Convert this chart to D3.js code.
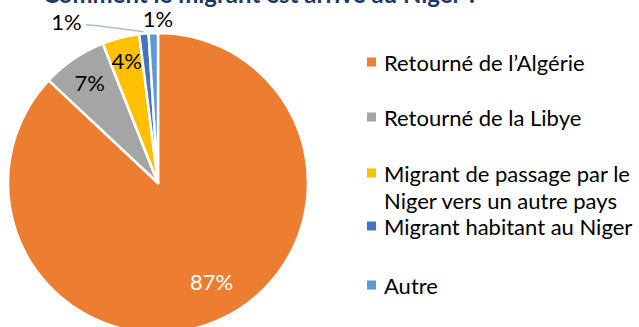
<!DOCTYPE html>
<html>
<head>
<meta charset="utf-8">
<script src="https://cdn.jsdelivr.net/npm/d3@7/dist/d3.min.js"></script>
<style>
  html, body { margin: 0; padding: 0; background: #fff; }
  svg { display: block; font-family: Lato, "Open Sans", sans-serif; }
</style>
</head>
<body>
<svg id="chart" width="639" height="327"></svg>
<script>
// How migrants arrived in Niger (share of respondents, %)
const title = "Comment le migrant est arrivé au Niger ?";
const categories = [
  "Retourné de l’Algérie",
  "Retourné de la Libye",
  "Migrant de passage par le Niger vers un autre pays",
  "Migrant habitant au Niger",
  "Autre"
];
const legendLines = [
  ["Retourné de l’Algérie"],
  ["Retourné de la Libye"],
  ["Migrant de passage par le", "Niger vers un autre pays"],
  ["Migrant habitant au Niger"],
  ["Autre"]
];
const values = [87, 7, 4, 1, 1];
const colors = ["#ED7D31", "#A5A5A5", "#FFC000", "#4472C4", "#5B9BD5"];

const data = categories.map((c, i) => ({ name: c, value: values[i], color: colors[i], lines: legendLines[i] }));

const svg = d3.select("#chart");
const cx = 158, cy = 183, R = 150;

// Title (sits partly above the top edge)
svg.append("text")
  .attr("x", 43).attr("y", 3)
  .attr("font-size", 24).attr("font-weight", 700)
  .attr("fill", "#1F3864")
  .text(title);

const pie = d3.pie().sort(null).value(d => d.value);
const arcs = pie(data);
const arc = d3.arc().innerRadius(0).outerRadius(R);

const g = svg.append("g").attr("transform", `translate(${cx},${cy})`);

g.selectAll("path.slice")
  .data(arcs)
  .join("path")
  .attr("class", "slice")
  .attr("d", arc)
  .attr("fill", d => d.data.color)
  .attr("stroke", "#fff")
  .attr("stroke-width", 2.5)
  .attr("stroke-linejoin", "round");

// Label placement: radius factor for inside labels, outside for the small ones
const labelFont = 22;
const pos = (a, r) => {
  const m = (a.startAngle + a.endAngle) / 2;
  return [Math.sin(m) * r, -Math.cos(m) * r];
};

const inside = [
  { i: 0, r: 0.75 * R, dx: 9, dy: -5, fill: "#fff" },
  { i: 1, r: 0.81 * R, dx: 0, dy: 0, fill: "#000" },
  { i: 2, r: 0.84 * R, dx: 0, dy: 0, fill: "#000" }
];
inside.forEach(o => {
  const [x, y] = pos(arcs[o.i], o.r);
  g.append("text")
    .attr("x", x + o.dx).attr("y", y + o.dy)
    .attr("text-anchor", "middle")
    .attr("dominant-baseline", "central")
    .attr("font-size", labelFont)
    .attr("fill", o.fill)
    .text(values[o.i] + "%");
});

// "Autre" label straight above its slice
{
  const [x, y] = pos(arcs[4], R + 14);
  g.append("text")
    .attr("x", x + 5).attr("y", y - 1)
    .attr("text-anchor", "middle")
    .attr("dominant-baseline", "central")
    .attr("font-size", labelFont)
    .attr("fill", "#000")
    .text(values[4] + "%");
}

// "Migrant habitant" label pulled to the left with a leader line
{
  const [ex, ey] = pos(arcs[3], R + 2);
  const kx = ex - 46, ky = ey - 6;
  const lx = kx - 12, ly = ky - 1;
  g.append("polyline")
    .attr("points", [[ex, ey], [kx, ky], [lx, ly]].map(p => p.join(",")).join(" "))
    .attr("fill", "none")
    .attr("stroke", "#A9BCD6")
    .attr("stroke-width", 1.5);
  g.append("text")
    .attr("x", lx - 4).attr("y", ly - 3)
    .attr("text-anchor", "end")
    .attr("dominant-baseline", "central")
    .attr("font-size", labelFont)
    .attr("fill", "#000")
    .text(values[3] + "%");
}

// Legend
const legendY = [62, 117, 173, 226, 285];
const lg = svg.append("g");
data.forEach((d, i) => {
  const row = lg.append("g").attr("transform", `translate(367,${legendY[i]})`);
  row.append("rect")
    .attr("x", 0).attr("y", -4.5)
    .attr("width", 9).attr("height", 9)
    .attr("fill", d.color);
  d.lines.forEach((t, j) => {
    row.append("text")
      .attr("x", 17).attr("y", j * 27)
      .attr("dominant-baseline", "central")
      .attr("font-size", 22)
      .attr("fill", "#000")
      .text(t);
  });
});
</script>
</body>
</html>
